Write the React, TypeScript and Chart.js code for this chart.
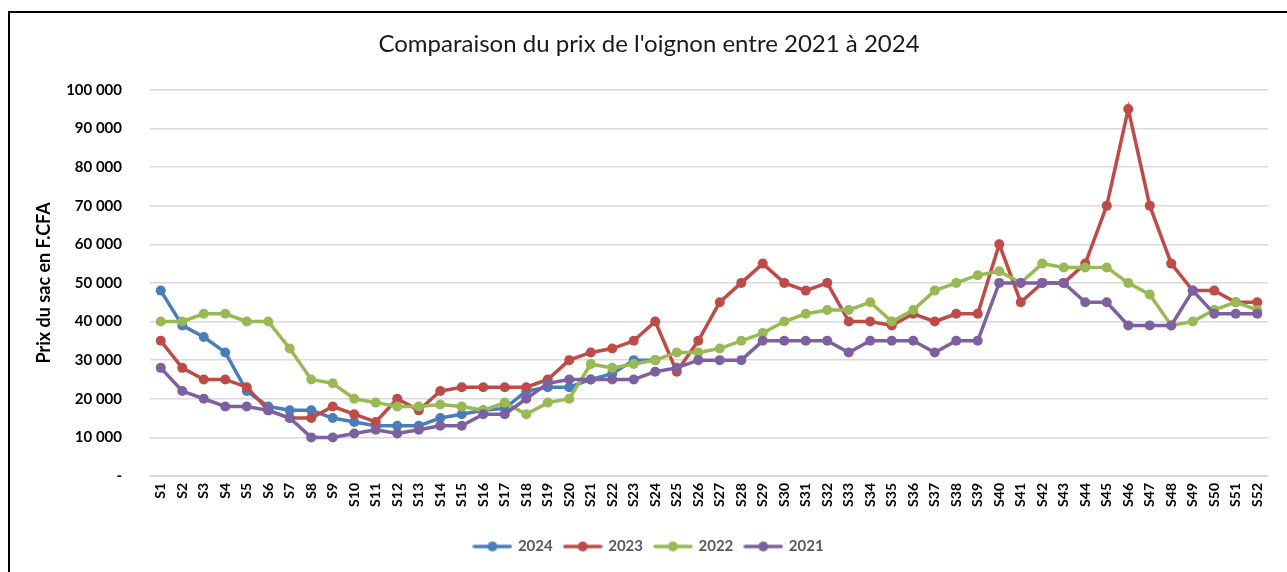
import React, { useEffect, useRef } from 'react';
import { Chart, registerables } from 'chart.js';

Chart.register(...registerables);

const weeks = [
  'S1', 'S2', 'S3', 'S4', 'S5', 'S6', 'S7', 'S8', 'S9', 'S10',
  'S11', 'S12', 'S13', 'S14', 'S15', 'S16', 'S17', 'S18', 'S19', 'S20',
  'S21', 'S22', 'S23', 'S24', 'S25', 'S26', 'S27', 'S28', 'S29', 'S30',
  'S31', 'S32', 'S33', 'S34', 'S35', 'S36', 'S37', 'S38', 'S39', 'S40',
  'S41', 'S42', 'S43', 'S44', 'S45', 'S46', 'S47', 'S48', 'S49', 'S50',
  'S51', 'S52',
];

const prix2024 = [
  48000, 39000, 36000, 32000, 22000, 18000, 17000, 17000, 15000, 14000,
  13000, 13000, 13000, 15000, 16000, 17000, 17500, 22000, 23000, 23000,
  25000, 26500, 30000, 30000, null, null, null, null, null, null,
  null, null, null, null, null, null, null, null, null, null,
  null, null, null, null, null, null, null, null, null, null,
  null, null,
];

const prix2023 = [
  35000, 28000, 25000, 25000, 23000, 17000, 15000, 15000, 18000, 16000,
  14000, 20000, 17000, 22000, 23000, 23000, 23000, 23000, 25000, 30000,
  32000, 33000, 35000, 40000, 27000, 35000, 45000, 50000, 55000, 50000,
  48000, 50000, 40000, 40000, 39000, 42000, 40000, 42000, 42000, 60000,
  45000, 50000, 50000, 55000, 70000, 95000, 70000, 55000, 48000, 48000,
  45000, 45000,
];

const prix2022 = [
  40000, 40000, 42000, 42000, 40000, 40000, 33000, 25000, 24000, 20000,
  19000, 18000, 18000, 18500, 18000, 17000, 19000, 16000, 19000, 20000,
  29000, 28000, 29000, 30000, 32000, 32000, 33000, 35000, 37000, 40000,
  42000, 43000, 43000, 45000, 40000, 43000, 48000, 50000, 52000, 53000,
  50000, 55000, 54000, 54000, 54000, 50000, 47000, 39000, 40000, 43000,
  45000, 43000,
];

const prix2021 = [
  28000, 22000, 20000, 18000, 18000, 17000, 15000, 10000, 10000, 11000,
  12000, 11000, 12000, 13000, 13000, 16000, 16000, 20000, 24000, 25000,
  25000, 25000, 25000, 27000, 28000, 30000, 30000, 30000, 35000, 35000,
  35000, 35000, 32000, 35000, 35000, 35000, 32000, 35000, 35000, 50000,
  50000, 50000, 50000, 45000, 45000, 39000, 39000, 39000, 48000, 42000,
  42000, 42000,
];

const seriesNames = ['2024', '2023', '2022', '2021'];
const seriesColors = ['#4A7EBB', '#BE4B48', '#98B954', '#7D60A0'];

const FONT = 'Lato, "Liberation Sans", sans-serif';

function legendIcon(color: string): HTMLCanvasElement {
  const c = document.createElement('canvas');
  c.width = 40;
  c.height = 12;
  const ctx = c.getContext('2d')!;
  ctx.strokeStyle = color;
  ctx.lineWidth = 3.5;
  ctx.lineCap = 'round';
  ctx.beginPath();
  ctx.moveTo(2, 6);
  ctx.lineTo(38, 6);
  ctx.stroke();
  ctx.fillStyle = color;
  ctx.beginPath();
  ctx.arc(20, 6, 5, 0, Math.PI * 2);
  ctx.fill();
  return c;
}

function formatTick(v: number): string {
  if (v === 0) return '-';
  return String(v).replace(/\B(?=(\d{3})+(?!\d))/g, ' ');
}

export default function App() {
  const canvasRef = useRef<HTMLCanvasElement | null>(null);

  useEffect(() => {
    const canvas = canvasRef.current;
    if (!canvas) return;
    const allData = [prix2024, prix2023, prix2022, prix2021];
    const icons = seriesColors.map((c) => legendIcon(c));

    const chart = new Chart(canvas, {
      type: 'line',
      data: {
        labels: weeks,
        datasets: seriesNames.map((name, i) => ({
          label: name,
          data: allData[i],
          borderColor: seriesColors[i],
          backgroundColor: seriesColors[i],
          borderWidth: 3.5,
          pointRadius: 5,
          pointBorderWidth: 0,
          pointBackgroundColor: seriesColors[i],
          tension: 0,
          spanGaps: false,
          order: 3 - i,
        })),
      },
      options: {
        responsive: false,
        animation: false,
        maintainAspectRatio: false,
        layout: { padding: { left: 20, right: 19, top: 10, bottom: 8 } },
        plugins: {
          tooltip: { enabled: false },
          title: {
            display: true,
            text: "Comparaison du prix de l'oignon entre 2021 à 2024",
            color: '#1a1a1a',
            font: { family: FONT, size: 24, weight: 'normal' },
            padding: { top: 7, bottom: 31 },
          },
          legend: {
            display: true,
            position: 'bottom',
            labels: {
              usePointStyle: true,
              pointStyleWidth: 36,
              color: '#595959',
              font: { family: FONT, size: 15, weight: 'bold' },
              padding: 12,
              sort: (a: any, b: any) => a.datasetIndex - b.datasetIndex,
              generateLabels: (ch: any) =>
                ch.data.datasets.map((ds: any, i: number) => ({
                  text: ds.label,
                  fillStyle: seriesColors[i],
                  strokeStyle: seriesColors[i],
                  lineWidth: 0,
                  pointStyle: icons[i],
                  hidden: false,
                  datasetIndex: i,
                  fontColor: '#595959',
                })),
            },
          },
        },
        scales: {
          x: {
            type: 'category',
            offset: true,
            grid: { display: false, drawTicks: false },
            border: { display: true, color: '#d9d9d9', width: 1 },
            ticks: {
              autoSkip: false,
              minRotation: 90,
              maxRotation: 90,
              padding: 7,
              color: '#000000',
              font: { family: FONT, size: 14, weight: 'bold' },
            },
            afterFit: (scale: any) => {
              scale.height = 51;
            },
          },
          y: {
            min: 0,
            max: 100000,
            ticks: {
              stepSize: 10000,
              padding: 28,
              color: '#000000',
              font: { family: FONT, size: 15, weight: 'bold' },
              callback: (v: any) => formatTick(Number(v)),
            },
            grid: { color: '#d9d9d9', lineWidth: 1.5, drawTicks: false },
            border: { display: false },
            title: {
              display: true,
              text: 'Prix du sac en F.CFA',
              color: '#000000',
              font: { family: FONT, size: 18, weight: 'bold' },
              padding: { top: 3, bottom: 4 },
            },
            afterFit: (scale: any) => {
              scale.width = 120;
            },
          },
        },
      },
    } as any);

    return () => chart.destroy();
  }, []);

  return (
    <div
      style={{
        position: 'absolute',
        left: 8,
        top: 11,
        width: 1279,
        height: 561,
        borderLeft: '2px solid #000',
        borderTop: '2px solid #000',
        boxSizing: 'border-box',
        background: '#fff',
        overflow: 'hidden',
      }}
    >
      <canvas
        ref={canvasRef}
        width={1277}
        height={559}
        style={{ position: 'absolute', left: 0, top: 0, width: 1277, height: 559 }}
      />
    </div>
  );
}
